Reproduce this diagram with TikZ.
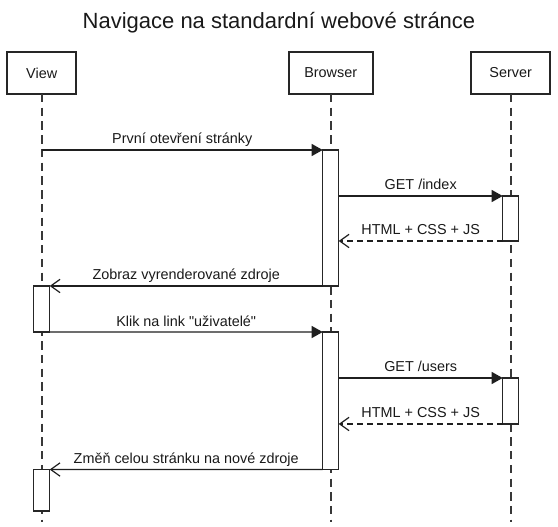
\documentclass[tikz,border=0pt]{standalone}
\usepackage{fontspec}
\setmainfont{Liberation Sans}[Ligatures=TeXOff]
\usetikzlibrary{arrows.meta,calc}
\begin{document}
\begin{tikzpicture}[x=0.75pt,y=-0.75pt,
  header/.style={draw=black!85, line width=1.8pt, fill=white, minimum height=31.5pt, inner sep=0pt, outer sep=0pt, font=\fontsize{10.8}{13}\selectfont, text=black!90},
  lifeline/.style={draw=black!78, line width=1.25pt, dash pattern=on 6.3pt off 4pt},
  act/.style={draw=black!85, line width=0.9pt, fill=white, minimum width=12pt, inner sep=0pt, outer sep=0pt},
  call/.style={draw=black!88, line width=0.9pt, -{Triangle[length=8.25pt,width=9pt]}},
  ret/.style={draw=black!88, line width=0.9pt, -{Straight Barb[length=7pt,width=10pt]}},
  reply/.style={ret, dash pattern=on 4.5pt off 3pt},
  lbl/.style={midway, anchor=base, yshift=4.5pt, inner sep=0pt, font=\fontsize{10.8}{13}\selectfont, text=black!90}
]
\useasboundingbox (0,0) rectangle (558,527);

\node[anchor=base, font=\fontsize{16.5}{20}\selectfont, text=black!90] (title) at (279,28.5) {Navigace na standardní webové stránce};

\node[header, minimum width=51.75pt] (view) at (41.7,73) {View};
\node[header, minimum width=63pt] (browser) at (330.7,73) {Browser};
\node[header, minimum width=59.25pt] (server) at (510.7,73) {Server};

\coordinate (viewend) at (41.7,522);
\coordinate (browserend) at (330.7,522);
\coordinate (serverend) at (510.7,522);

\draw[lifeline] (view.south) -- (viewend);
\draw[lifeline] (browser.south) -- (browserend);
\draw[lifeline] (server.south) -- (serverend);

\node[act, minimum height=102pt] (bA1) at (330.7,218) {};
\node[act, minimum height=33.75pt] (sA1) at (510.7,218.5) {};
\node[act, minimum height=34.5pt] (vA1) at (41.7,309) {};
\node[act, minimum height=103.1pt] (bA2) at (330.7,400.75) {};
\node[act, minimum height=34.5pt] (sA2) at (510.7,401) {};
\node[act, minimum height=31.1pt] (vA2) at (41.7,490.25) {};

\draw[call] (view.south |- bA1.north west) -- (bA1.north west) node[lbl] {První otevření stránky};
\draw[call] (bA1.east |- sA1.north west) -- (sA1.north west) node[lbl] {GET /index};
\draw[reply] (sA1.south west) -- (bA1.east |- sA1.south west) node[lbl] {HTML + CSS + JS};
\draw[ret] (bA1.south west) -- (vA1.north east) node[lbl] {Zobraz vyrenderované zdroje};
\draw[call] (vA1.south east) -- (bA2.north west) node[lbl] {Klik na link "uživatelé"};
\draw[call] (bA2.east |- sA2.north west) -- (sA2.north west) node[lbl] {GET /users};
\draw[reply] (sA2.south west) -- (bA2.east |- sA2.south west) node[lbl] {HTML + CSS + JS};
\draw[ret] (bA2.south west) -- (vA2.north east) node[lbl] {Změň celou stránku na nové zdroje};
\end{tikzpicture}
\end{document}
